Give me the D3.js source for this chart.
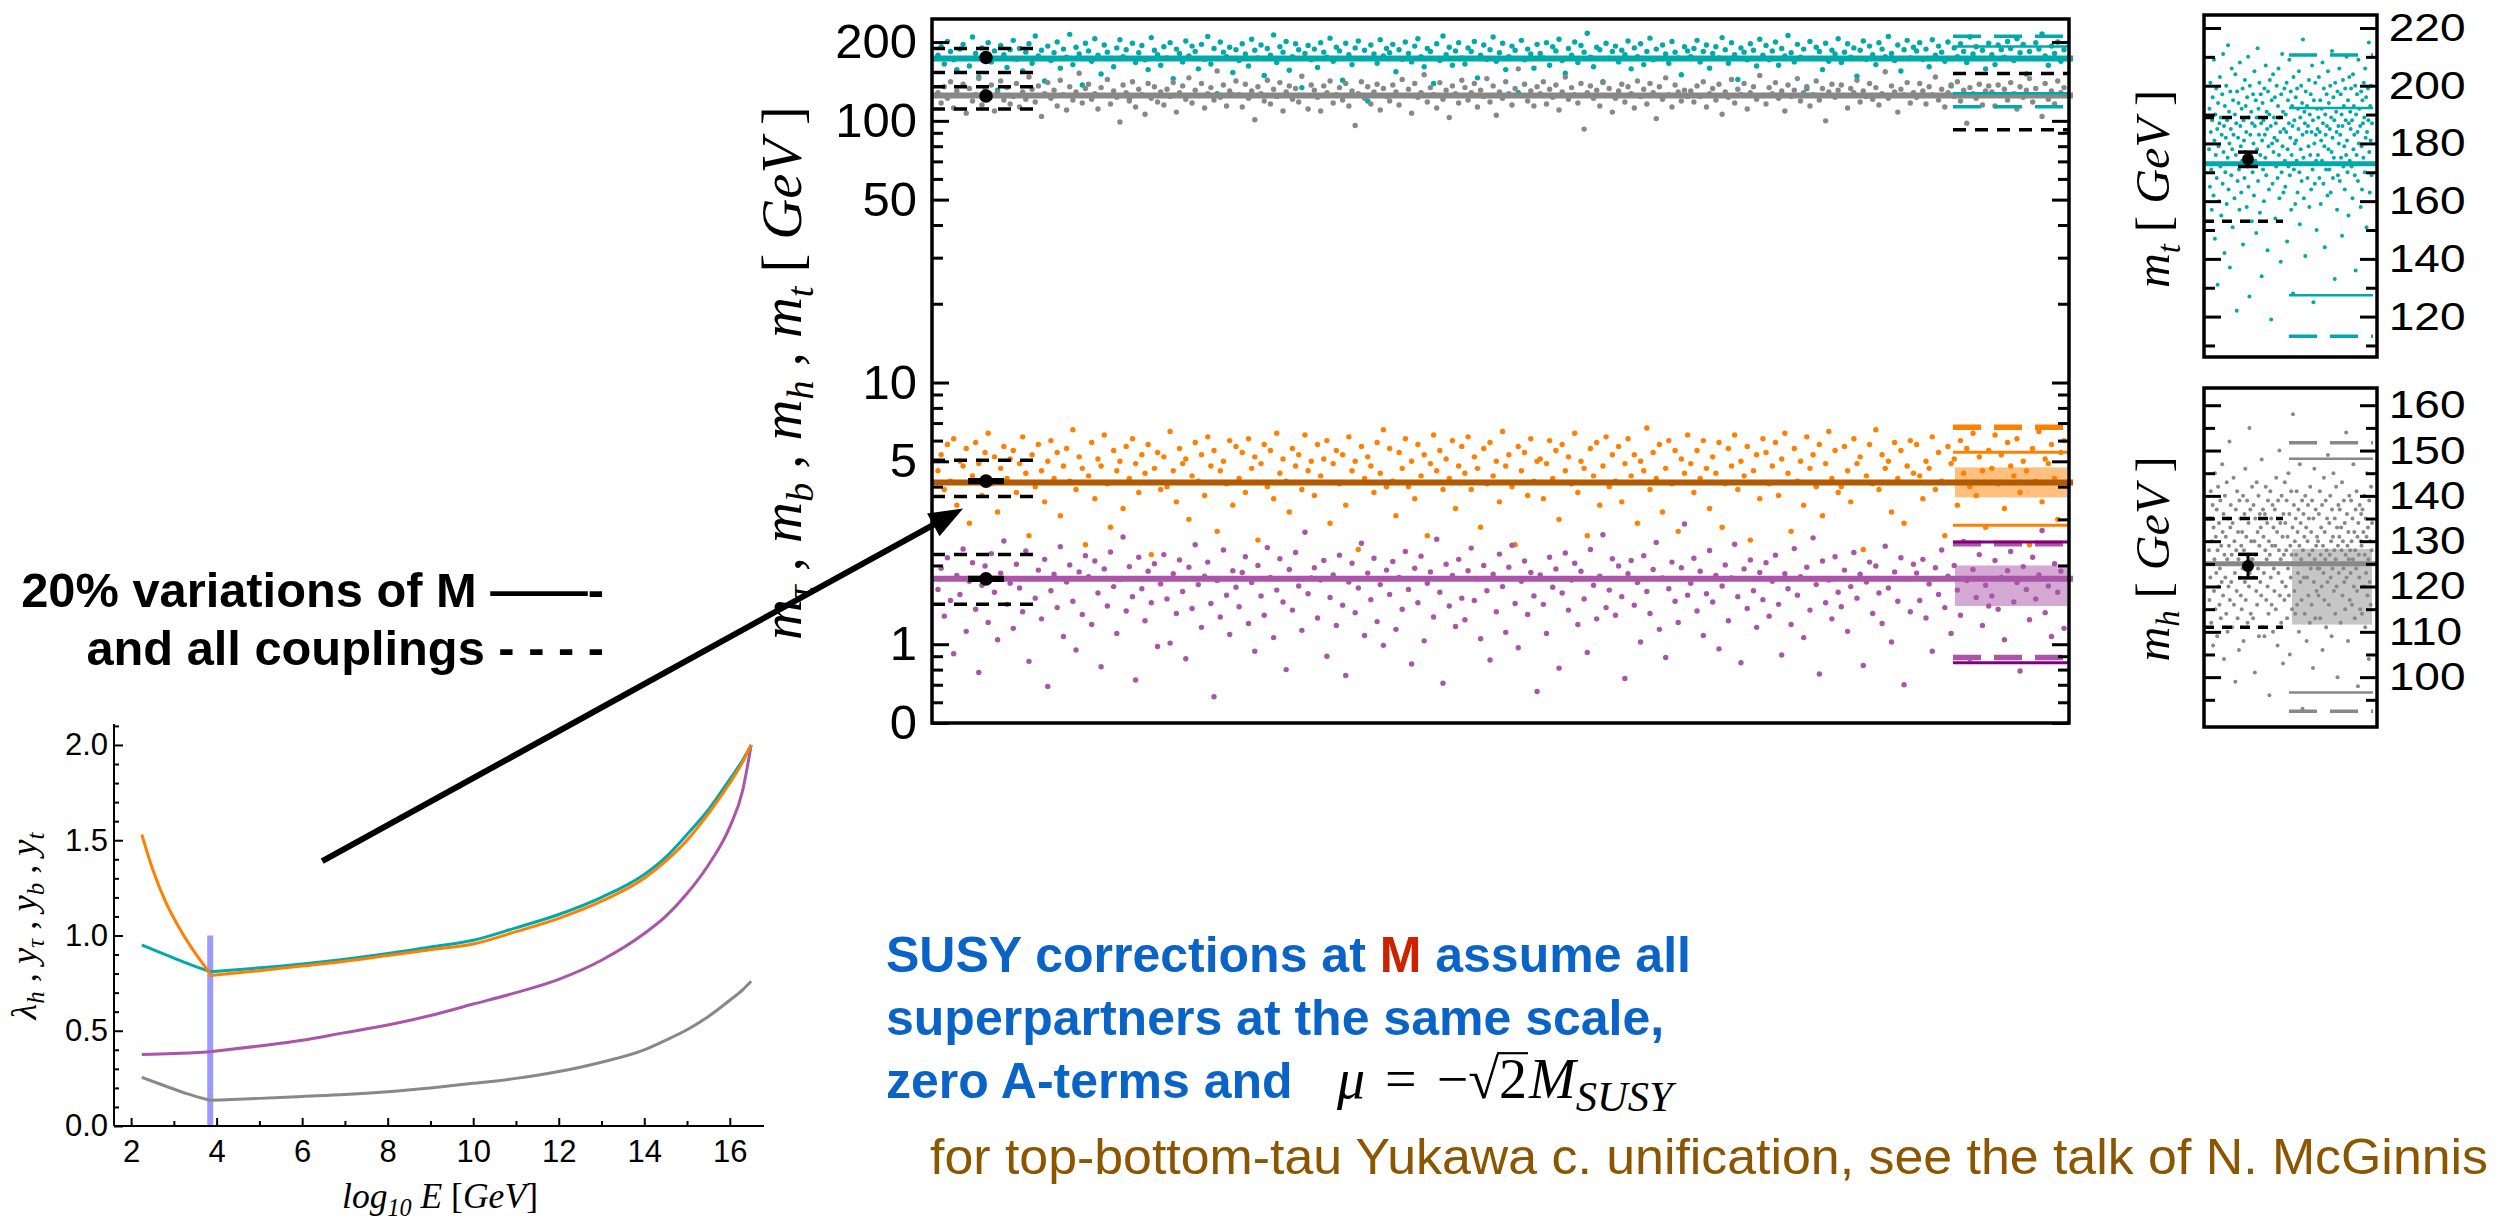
<!DOCTYPE html>
<html>
<head>
<meta charset="utf-8">
<script src="https://cdn.jsdelivr.net/npm/d3@7/dist/d3.min.js"></script>
<style>
  body { margin: 0; background: #fff; }
  svg { display: block; }
</style>
</head>
<body>
<svg id="fig" width="2501" height="1221"></svg>
<script>
// sampled masses (one value per scan point), GeV
const mtVals = [
  178,192,165,201,184,171,157,188,196,173,162,209,181,147,190,176,199,168,185,131,194,179,160,187,
  203,172,189,155,183,197,166,211,177,186,142,193,170,182,200,159,188,175,214,164,191,180,137,198,
  185,169,206,178,151,195,183,173,161,190,204,176,187,122,198,167,182,194,171,157,208,186,179,163,
  192,174,199,145,188,181,168,202,177,193,184,158,196,172,210,165,189,127,200,183,176,191,153,187,
  170,197,180,162,205,186,174,195,149,189,178,213,167,192,183,201,156,176,197,187,134,181,194,171,
  188,160,199,183,175,207,169,191,185,143,198,179,164,190,202,173,186,119,195,180,166,204,177,189,
  182,196,154,187,172,200,181,168,193,206,176,161,189,184,139,197,170,211,179,191,163,185,199,174,
  165,190,184,201,146,178,195,172,187,209,169,182,198,157,176,193,186,128,203,171,188,180,159,196,
  181,174,199,163,192,185,205,170,152,189,178,200,167,194,183,216,175,161,191,187,141,198,173,184,
  193,168,186,179,202,158,190,176,197,164,184,207,171,188,125,195,180,166,201,183,174,150,192,185,
  176,189,203,168,184,195,159,181,192,174,208,187,166,199,179,144,190,183,171,197,186,162,205,178,
  194,171,185,200,163,189,177,212,182,168,196,175,188,133,201,173,191,184,157,198,169,186,180,206,
  167,183,197,175,190,148,186,202,172,193,179,164,199,188,176,210,181,170,195,155,187,203,174,191,
  185,199,172,188,161,204,178,193,183,169,200,136,190,176,197,184,167,209,180,192,173,186,158,198,
  179,164,195,187,175,201,189,170,206,182,196,151,184,173,199,188,215,177,163,193,181,200,169,187
];
const mhVals = [
  128,117,135,122,141,112,130,125,138,107,133,119,126,145,115,131,123,137,109,128,142,120,134,116,
  124,139,113,129,121,147,132,118,136,104,127,140,122,131,114,143,126,110,135,120,129,152,117,133,
  138,121,127,111,134,125,144,116,130,123,99,137,128,119,141,113,132,126,106,139,122,135,118,129,
  115,132,124,140,108,128,136,121,146,117,131,125,139,112,127,134,120,155,123,137,114,130,126,142,
  126,113,138,122,130,101,135,127,119,143,116,132,124,140,109,129,136,121,133,118,148,125,111,137,
  131,123,109,136,128,142,117,126,134,120,139,114,130,96,127,141,122,135,116,129,138,110,133,124,
  119,137,129,115,144,125,132,107,139,123,128,150,118,134,126,112,140,121,131,103,136,127,117,143,
  134,120,128,139,113,131,124,145,118,136,105,129,122,141,127,115,133,158,125,138,119,130,114,135,
  127,141,116,132,123,137,110,129,147,121,134,126,117,139,93,128,136,122,131,114,140,125,133,108,
  122,130,138,118,135,127,112,142,124,132,116,139,128,102,135,121,146,126,113,137,129,119,131,124,
  130,118,136,124,141,113,127,133,120,138,106,129,123,144,117,132,126,139,111,128,135,121,149,125,
  116,134,127,140,122,130,109,137,124,131,145,119,128,135,114,126,142,120,133,100,129,138,123,131,
  137,125,112,133,128,143,118,130,124,139,121,134,115,127,154,122,136,129,108,132,126,140,117,128,
  123,139,130,116,135,126,147,120,132,113,128,137,124,141,119,131,98,134,127,122,138,115,130,136,
  129,114,137,125,132,120,140,127,111,135,123,131,145,118,133,126,104,139,121,130,116,142,128,134
];
const mbVals = [
  4.6,5.3,3.9,5.8,4.2,6.1,3.4,5.0,4.8,5.6,2.9,4.4,5.9,4.9,3.7,5.4,6.4,4.1,5.2,3.2,4.7,5.7,4.3,5.1,
  5.5,3.8,4.9,6.2,4.5,2.6,5.3,4.0,5.8,4.6,3.5,5.0,6.0,4.3,5.4,3.1,4.8,5.6,4.2,6.6,3.9,5.2,4.7,2.4,
  4.4,5.9,3.6,5.1,4.8,6.3,4.1,2.8,5.5,4.6,5.0,3.3,5.7,4.3,6.1,4.9,3.8,5.3,4.5,5.8,2.2,4.7,5.4,3.9,
  5.2,4.0,6.5,4.6,3.5,5.6,4.9,5.1,3.0,4.4,5.9,4.2,5.3,3.7,6.2,4.8,5.5,2.7,4.6,5.0,4.1,6.0,3.4,5.7,
  4.3,5.4,3.8,6.1,4.7,5.2,2.5,4.9,5.8,4.0,5.5,3.6,6.4,4.5,5.1,4.2,3.2,5.6,4.8,5.3,3.9,6.3,4.6,5.0,
  3.7,5.8,4.4,5.1,6.0,2.9,4.9,5.5,4.1,5.3,3.4,6.2,4.6,5.0,2.3,5.7,4.3,5.2,4.8,3.8,5.9,4.5,6.6,4.0,
  5.6,4.2,3.1,5.4,4.7,6.1,4.0,5.0,3.6,5.8,4.4,5.3,2.6,4.9,6.3,4.6,5.5,3.9,5.1,4.3,6.0,3.3,4.8,5.7,
  4.5,6.2,3.9,5.2,4.7,2.8,5.6,4.1,5.9,4.4,5.0,3.5,6.5,4.8,5.3,4.0,2.4,5.7,4.6,5.4,3.7,6.1,4.2,5.0,
  5.1,3.6,4.9,6.0,4.3,5.5,3.0,5.8,4.6,5.2,4.1,6.4,3.8,5.0,4.7,2.6,5.6,4.4,5.9,3.4,4.8,6.2,4.0,5.3,
  4.2,5.7,3.5,4.9,6.1,4.4,5.3,2.9,5.0,4.6,6.7,3.9,5.4,4.3,5.8,3.2,4.7,6.0,4.1,5.5,2.7,5.1,4.5,6.3,
  4.9,3.8,5.5,4.3,6.0,4.7,3.3,5.2,4.5,5.9,2.8,4.1,5.6,4.8,6.3,3.9,5.0,4.4,5.7,2.5,4.6,5.3,3.6,6.1,
  5.4,4.1,4.8,5.9,3.7,5.1,6.4,4.5,2.7,5.6,4.2,5.0,3.4,6.2,4.7,5.3,4.0,5.8,3.1,4.9,6.5,4.3,5.5,3.8,
  4.0,5.7,4.6,3.5,6.1,4.9,5.2,2.3,4.4,5.8,4.1,6.6,3.9,5.3,4.7,5.0,3.2,5.9,4.3,5.5,2.9,4.8,6.0,4.5,
  5.8,4.4,3.6,5.0,4.7,6.2,3.9,5.4,4.2,2.6,5.7,4.9,5.1,3.4,6.0,4.5,5.6,4.0,6.4,3.7,5.2,4.6,2.8,5.5,
  4.7,6.3,4.1,5.3,3.3,5.9,4.8,4.4,6.1,3.8,5.0,4.6,2.4,5.6,4.2,6.5,3.5,5.1,4.9,5.8,4.3,3.0,5.4,6.0
];
const mtauVals = [
  1.62,1.95,1.28,2.14,1.47,0.92,1.83,1.55,2.31,1.12,1.74,2.05,1.36,0.78,1.68,1.99,1.21,2.22,1.58,1.04,1.87,2.48,1.42,1.71,
  1.15,2.02,1.64,1.33,2.27,0.86,1.78,1.50,1.92,1.25,2.11,0.69,1.60,1.85,1.38,2.36,1.07,1.73,2.01,1.46,0.95,1.89,1.30,2.18,
  1.81,1.19,2.08,1.57,0.82,1.94,1.40,2.25,1.66,1.10,1.77,2.57,1.34,1.98,1.52,0.73,2.15,1.63,1.23,1.90,1.44,2.03,0.98,1.70,
  2.20,1.49,1.01,1.86,1.31,2.10,1.59,0.88,1.97,1.37,2.40,1.69,1.16,1.82,2.06,1.43,0.63,1.75,1.27,2.29,1.54,1.09,1.91,1.65,
  1.39,1.88,2.16,1.20,1.72,0.94,2.00,1.53,1.29,2.34,1.80,1.06,1.61,2.12,1.45,0.80,1.93,1.35,2.24,1.67,1.13,2.68,1.56,1.79,
  1.96,1.26,1.76,2.09,0.90,1.51,1.84,1.18,2.19,1.41,0.76,1.73,2.04,1.32,1.64,2.43,1.08,1.87,1.48,2.13,1.22,1.69,0.99,1.92,
  1.55,2.07,1.14,1.80,1.36,2.26,1.62,0.84,1.95,1.44,2.17,1.03,1.71,1.89,1.27,2.52,1.58,0.71,2.02,1.40,1.83,1.17,2.11,1.50,
  1.24,1.91,2.33,1.47,1.78,1.05,2.00,1.60,0.87,1.85,1.33,2.21,1.66,1.11,1.97,2.39,1.43,0.97,1.74,2.08,1.30,1.88,1.53,0.66,
  1.84,1.42,1.10,2.15,1.65,1.94,0.81,1.57,2.23,1.35,1.76,2.04,1.19,1.90,1.49,0.93,2.30,1.68,1.25,1.82,2.62,1.38,1.61,2.12,
  1.29,1.99,1.52,0.74,1.86,2.09,1.41,1.72,1.02,2.18,1.59,1.31,1.93,2.45,1.14,1.79,0.89,1.63,2.06,1.46,1.21,1.96,2.88,1.54,
  1.71,2.13,1.34,1.90,1.08,1.56,2.28,1.45,1.83,0.96,1.67,2.01,1.23,1.79,2.41,1.52,0.85,1.94,1.37,2.10,1.60,1.16,1.88,1.48,
  2.05,1.28,1.74,2.19,1.42,0.91,1.86,1.63,1.19,2.32,1.54,1.81,1.06,1.97,1.35,2.55,1.69,0.77,2.08,1.44,1.76,1.25,2.16,1.58,
  1.39,1.92,1.12,1.66,2.24,1.50,1.85,0.83,1.73,2.06,1.31,1.99,1.57,1.20,2.37,1.64,1.02,1.89,1.46,2.14,0.70,1.78,1.33,2.02,
  1.87,1.47,2.11,1.26,1.70,0.94,1.96,1.55,2.29,1.38,1.82,1.10,2.00,1.61,1.29,2.47,1.75,0.88,1.93,1.51,2.20,1.18,1.68,1.40,
  1.53,2.09,1.36,1.80,1.04,1.91,2.26,1.45,1.72,0.79,1.98,1.62,1.24,2.15,1.49,1.84,2.72,1.32,1.67,1.07,2.03,1.58,1.90,1.15
];

// order everywhere: t, h, b, tau
const fitMasses = [173, 125, 4.15, 1.78];
const expMasses = [174.5, 124.5, 4.2, 1.777];
const expErrors = [2.5, 2.6, 0.05, 0.02];
const couplingBands = [[189, 153], [135, 111], [5.05, 3.67], [2.2, 1.42]];

const mainTickVals = [0.5, 1, 5, 10, 50, 100, 200];
const mainTickLabels = ['0', '1', '5', '10', '50', '100', '200'];
const mainMinorVals = [0.6, 0.7, 0.8, 0.9, 2, 3, 4, 6, 7, 8, 9, 20, 30, 40, 60, 70, 80, 90];

// right-hand stubs: M varied by 20%
const tStubDashed = [210.6, 113.2], tStubSolid = [192.3, 127.4];
const hStubDashed = [151.7, 92.5], hStubSolid = [148.2, 96.6], hBand = [111.6, 128.3];
const bStubDashed = [6.75, 2.43], bStubSolid = [5.42, 2.85], bBand = [3.64, 4.74];
const tauStubDashed = [2.42, 0.89], tauStubSolid = [2.46, 0.85], tauBand = [1.40, 2.0];

const mtMiniTicks = [120, 140, 160, 180, 200, 220], mtMiniMinor = [110, 130, 150, 170, 190, 210];
const mhMiniTicks = [100, 110, 120, 130, 140, 150, 160], mhMiniMinor = [95, 105, 115, 125, 135, 145, 155];

// running couplings vs log10 E
const energyTicks = [2, 4, 6, 8, 10, 12, 14, 16], energyMinor = [3, 5, 7, 9, 11, 13, 15];
const couplingTicks = [0, 0.5, 1, 1.5, 2];
const couplingMinor = [0.1,0.2,0.3,0.4,0.6,0.7,0.8,0.9,1.1,1.2,1.3,1.4,1.6,1.7,1.8,1.9,2.1];
const logM = 3.85;
const ytLow = [[2.25,0.95],[2.8,0.9],[3.3,0.855],[3.85,0.81]];
const ytHigh = [[3.85,0.81],[5,0.83],[6,0.85],[7,0.875],[8,0.905],[9,0.94],[10,0.975],[11,1.04],[12,1.11],[13,1.2],[14,1.32],[14.5,1.41],[15,1.53],[15.5,1.66],[16,1.82],[16.3,1.92],[16.5,2.0]];
const ybLow = [[2.25,1.53],[2.5,1.35],[2.8,1.18],[3.1,1.05],[3.4,0.94],[3.65,0.86],[3.85,0.8]];
const ybHigh = [[3.85,0.79],[5,0.815],[6,0.84],[7,0.865],[8,0.895],[9,0.925],[10,0.955],[11,1.02],[12,1.09],[13,1.18],[14,1.3],[14.5,1.39],[15,1.5],[15.5,1.64],[16,1.8],[16.3,1.91],[16.5,2.0]];
const ytauLow = [[2.25,0.375],[3,0.38],[3.85,0.39]];
const ytauHigh = [[3.85,0.39],[5,0.42],[6,0.45],[7,0.49],[8,0.53],[9,0.58],[10,0.64],[11,0.7],[12,0.77],[13,0.87],[14,1.01],[14.5,1.1],[15,1.22],[15.5,1.37],[16,1.57],[16.3,1.76],[16.5,2.0]];
const lamLow = [[2.25,0.255],[2.8,0.21],[3.3,0.17],[3.85,0.135]];
const lamHigh = [[3.85,0.135],[5,0.145],[6,0.155],[7,0.165],[8,0.18],[9,0.2],[10,0.224],[11,0.25],[12,0.286],[13,0.335],[14,0.4],[14.5,0.45],[15,0.505],[15.5,0.575],[16,0.66],[16.3,0.715],[16.5,0.76]];

const svg = d3.select('#fig');
const teal = '#00aaaa', grey = '#888888', orange = '#ff8000', purple = '#aa55aa', darkOrange = '#b35900';
const dashLong = '28,13', dashShort = '13,9';
const sansFam = 'Liberation Sans, Arial, sans-serif';
const narrow = 'Liberation Sans Narrow, Arial Narrow, Liberation Sans, sans-serif';
const serif = 'Liberation Serif, Times New Roman, serif';

function hline(g, y, x0, x1, color, w, dash) {
  g.append('line').attr('x1', x0).attr('x2', x1).attr('y1', y).attr('y2', y)
    .attr('stroke', color).attr('stroke-width', w).attr('stroke-dasharray', dash || null);
}

function errPoint(g, cx, cy, ylo, yhi, cap, r) {
  if (cap > 0) {
    g.append('line').attr('x1', cx).attr('x2', cx).attr('y1', ylo).attr('y2', yhi)
      .attr('stroke', '#000').attr('stroke-width', 3);
    [ylo, yhi].forEach(y => hline(g, y, cx - cap / 2, cx + cap / 2, '#000', 3.5));
  }
  g.append('circle').attr('cx', cx).attr('cy', cy).attr('r', r).attr('fill', '#000');
}

function styleAxis(g, fs, fam, sw) {
  g.attr('font-size', null).attr('font-family', null);
  g.select('.domain').remove();
  g.selectAll('.tick line').attr('stroke', '#000').attr('stroke-width', sw);
  g.selectAll('.tick text').attr('font-size', fs).attr('font-family', fam).attr('fill', '#000');
}

// rich text: italic parts and subscripts, sizes relative to the parent
function rich(sel, pieces) {
  let down = false;
  pieces.forEach(p => {
    const t = sel.append('tspan').text(p[0]);
    if (p[1] === 'i' || p[1] === 's') t.attr('font-style', 'italic');
    if (p[1] === 's') {
      t.attr('font-size', '0.68em');
      if (!down) t.attr('dy', '0.32em');
      down = true;
    } else {
      if (down) t.attr('dy', '-0.218em');
      down = false;
    }
  });
}

// scale the font so the text takes the given width
function fitWidth(sel, target) {
  const w = sel.node().getComputedTextLength();
  const fs = +sel.attr('font-size') * target / w;
  sel.attr('font-size', fs);
  return fs;
}

// ---------------- main panel ----------------
const N = mtVals.length;
const xMain = d3.scaleLinear().domain([0, N - 1]).range([938, 2064]);
const yMain = d3.scaleLog().domain([0.5, 245]).range([723, 19]);
const main = svg.append('g');
const stubX0 = 1953, stubX1 = 2069;

[[bBand, 'rgba(255,128,0,0.5)'], [tauBand, 'rgba(170,85,170,0.5)']].forEach(([b, c]) => {
  main.append('rect').attr('x', 1955).attr('width', 112)
    .attr('y', yMain(b[1])).attr('height', yMain(b[0]) - yMain(b[1])).attr('fill', c);
});

const mainSeries = [
  { vals: mtVals, color: teal }, { vals: mhVals, color: grey },
  { vals: mbVals, color: orange }, { vals: mtauVals, color: purple }
];
mainSeries.forEach(s => {
  main.append('g').selectAll('circle').data(s.vals).join('circle')
    .attr('cx', (d, i) => xMain(i)).attr('cy', d => yMain(d)).attr('r', 2.7).attr('fill', s.color);
});

const fitColors = [teal, grey, darkOrange, purple];
fitMasses.forEach((m, i) => hline(main, yMain(m), 932, 2073, fitColors[i], 6));

tStubDashed.forEach(v => hline(main, yMain(v), stubX0, stubX1, teal, 3.5, dashLong));
tStubSolid.forEach(v => hline(main, yMain(v), stubX0, stubX1, teal, 2.5));
hStubDashed.forEach(v => hline(main, yMain(v), stubX0, stubX1, '#000', 3.5, dashShort));
bStubDashed.forEach(v => hline(main, yMain(v), stubX0, stubX1 + 4, orange, 5.5, dashLong));
bStubSolid.forEach(v => hline(main, yMain(v), stubX0, stubX1, orange, 3));
tauStubDashed.forEach(v => hline(main, yMain(v), stubX0, stubX1 + 4, purple, 5.5, dashLong));
tauStubSolid.forEach(v => hline(main, yMain(v), stubX0, stubX1, '#800080', 3));

couplingBands.forEach(b => b.forEach(v => hline(main, yMain(v), 932, 1040, '#000', 3.5, dashShort)));

expMasses.forEach((m, i) => {
  errPoint(main, 986, yMain(m), yMain(m - expErrors[i]), yMain(m + expErrors[i]), i < 2 ? 0 : 36, 6.8);
});

main.append('rect').attr('x', 932).attr('y', 19).attr('width', 1137).attr('height', 704)
  .attr('fill', 'none').attr('stroke', '#000').attr('stroke-width', 3.5);
main.append('g').attr('transform', 'translate(932,0)')
  .call(d3.axisLeft(yMain).tickValues(mainTickVals).tickFormat((d, i) => mainTickLabels[i]).tickSize(-17).tickPadding(15))
  .call(g => styleAxis(g, 49, sansFam, 3));
main.append('g').attr('transform', 'translate(932,0)')
  .call(d3.axisLeft(yMain).tickValues(mainMinorVals).tickFormat('').tickSize(-11))
  .call(g => styleAxis(g, 49, sansFam, 3));
main.append('g').attr('transform', 'translate(2069,0)')
  .call(d3.axisRight(yMain).tickValues(mainTickVals).tickFormat('').tickSize(-17))
  .call(g => styleAxis(g, 49, sansFam, 3));
main.append('g').attr('transform', 'translate(2069,0)')
  .call(d3.axisRight(yMain).tickValues(mainMinorVals).tickFormat('').tickSize(-11))
  .call(g => styleAxis(g, 49, sansFam, 3));

const mainLabel = svg.append('text').attr('transform', 'translate(801,373) rotate(-90)')
  .attr('text-anchor', 'middle').attr('font-family', serif).attr('font-size', 56);
rich(mainLabel, [['m','i'],['τ','s'],[' , ','r'],['m','i'],['b','s'],[' , ','r'],['m','i'],['h','s'],
  [' , ','r'],['m','i'],['t','s'],[' [ ','r'],['GeV','i'],[' ]','r']]);
fitWidth(mainLabel, 534);

// ---------------- side panels ----------------
const xMini = d3.scaleLinear().domain([0, N - 1]).range([2209, 2372]);

function miniPanel(c) {
  const g = svg.append('g');
  const y = d3.scaleLinear().domain(c.domain).range(c.range);
  if (c.stubBand) {
    g.append('rect').attr('x', 2292).attr('width', 80)
      .attr('y', y(c.stubBand[1])).attr('height', y(c.stubBand[0]) - y(c.stubBand[1]))
      .attr('fill', 'rgba(128,128,128,0.45)');
  }
  g.append('g').selectAll('circle').data(c.vals).join('circle')
    .attr('cx', (d, i) => xMini(i)).attr('cy', d => y(d)).attr('r', 2).attr('fill', c.color);
  hline(g, y(c.fit), 2204, 2377, c.color, 5);
  c.stubDashed.forEach(v => hline(g, y(v), 2289, 2373, c.color, 3.5, dashLong));
  c.stubSolid.forEach(v => hline(g, y(v), 2289, 2373, c.color, 2.5));
  c.band.forEach(v => hline(g, y(v), 2204, 2283, '#000', 3.5, '10,8'));
  errPoint(g, 2248, y(c.exp), y(c.exp - c.err), y(c.exp + c.err), 20, 6);
  g.append('rect').attr('x', 2204).attr('y', c.range[1]).attr('width', 173)
    .attr('height', c.range[0] - c.range[1])
    .attr('fill', 'none').attr('stroke', '#000').attr('stroke-width', 3.5);
  g.append('g').attr('transform', 'translate(2377,0)')
    .call(d3.axisRight(y).tickValues(c.ticks).tickFormat(d3.format('d')).tickSize(-17).tickPadding(10))
    .call(s => styleAxis(s, 39, sansFam, 3))
    .call(s => s.selectAll('.tick text').attr('transform', 'scale(1.18,1)'));
  g.append('g').attr('transform', 'translate(2377,0)')
    .call(d3.axisRight(y).tickValues(c.minor).tickFormat('').tickSize(-11))
    .call(s => styleAxis(s, 39, sansFam, 3));
  g.append('g').attr('transform', 'translate(2204,0)')
    .call(d3.axisLeft(y).tickValues(c.ticks).tickFormat('').tickSize(-17))
    .call(s => styleAxis(s, 39, sansFam, 3));
  g.append('g').attr('transform', 'translate(2204,0)')
    .call(d3.axisLeft(y).tickValues(c.minor).tickFormat('').tickSize(-11))
    .call(s => styleAxis(s, 39, sansFam, 3));
  const lab = svg.append('text').attr('transform', `translate(2169,${c.labelMid}) rotate(-90)`)
    .attr('text-anchor', 'middle').attr('font-family', serif).attr('font-size', 54);
  rich(lab, [['m','i'],[c.sub,'s'],[' [ ','r'],['GeV','i'],[' ]','r']]);
  fitWidth(lab, c.labelLen);
}

miniPanel({ vals: mtVals, color: teal, domain: [106, 224.5], range: [357, 15],
  ticks: mtMiniTicks, minor: mtMiniMinor, fit: fitMasses[0], exp: expMasses[0], err: expErrors[0],
  band: couplingBands[0], stubDashed: tStubDashed, stubSolid: tStubSolid, sub: 't',
  labelMid: 189, labelLen: 198 });
miniPanel({ vals: mhVals, color: grey, domain: [89, 163.8], range: [727, 388],
  ticks: mhMiniTicks, minor: mhMiniMinor, fit: fitMasses[1], exp: expMasses[1], err: expErrors[1],
  band: couplingBands[1], stubDashed: hStubDashed, stubSolid: hStubSolid, stubBand: hBand, sub: 'h',
  labelMid: 559, labelLen: 205 });

// ---------------- running couplings ----------------
const xS = d3.scaleLinear().domain([1.6, 16.8]).range([114, 764]);
const yS = d3.scaleLinear().domain([0, 2.11]).range([1126, 724]);
const small = svg.append('g');

small.append('line').attr('x1', xS(logM)).attr('x2', xS(logM)).attr('y1', yS(0)).attr('y2', yS(1))
  .attr('stroke', 'rgba(100,100,255,0.65)').attr('stroke-width', 6);

const curveGen = d3.line().x(d => xS(d[0])).y(d => yS(d[1])).curve(d3.curveMonotoneX);
[[lamLow, grey], [lamHigh, grey], [ytauLow, purple], [ytauHigh, purple],
 [ytLow, teal], [ytHigh, teal], [ybLow, orange], [ybHigh, orange]].forEach(([pts, col]) => {
  small.append('path').attr('d', curveGen(pts)).attr('fill', 'none')
    .attr('stroke', col).attr('stroke-width', 3);
});

small.append('line').attr('x1', xS(1.6)).attr('x2', xS(16.8)).attr('y1', yS(0)).attr('y2', yS(0))
  .attr('stroke', '#000').attr('stroke-width', 2);
small.append('line').attr('x1', xS(1.6)).attr('x2', xS(1.6)).attr('y1', yS(0)).attr('y2', yS(2.11))
  .attr('stroke', '#000').attr('stroke-width', 2);
small.append('g').attr('transform', `translate(0,${yS(0)})`)
  .call(d3.axisBottom(xS).tickValues(energyTicks).tickFormat(d3.format('d')).tickSize(-8).tickPadding(14))
  .call(g => styleAxis(g, 31, narrow, 2));
small.append('g').attr('transform', `translate(0,${yS(0)})`)
  .call(d3.axisBottom(xS).tickValues(energyMinor).tickFormat('').tickSize(-5))
  .call(g => styleAxis(g, 31, narrow, 2));
small.append('g').attr('transform', `translate(${xS(1.6)},0)`)
  .call(d3.axisLeft(yS).tickValues(couplingTicks).tickFormat(d3.format('.1f')).tickSize(-9).tickPadding(6))
  .call(g => styleAxis(g, 31, narrow, 2));
small.append('g').attr('transform', `translate(${xS(1.6)},0)`)
  .call(d3.axisLeft(yS).tickValues(couplingMinor).tickFormat('').tickSize(-5))
  .call(g => styleAxis(g, 31, narrow, 2));

const sy = svg.append('text').attr('transform', 'translate(36,926) rotate(-90)')
  .attr('text-anchor', 'middle').attr('font-family', serif).attr('font-size', 30);
rich(sy, [['λ','i'],['h','s'],[' , ','r'],['y','i'],['τ','s'],[' , ','r'],['y','i'],['b','s'],[' , ','r'],['y','i'],['t','s']]);
fitWidth(sy, 187);
const sx = svg.append('text').attr('x', 440).attr('y', 1208)
  .attr('text-anchor', 'middle').attr('font-family', serif).attr('font-size', 34);
rich(sx, [['log','i'],['10','s'],[' E ','i'],['[','r'],['GeV','i'],[']','r']]);
fitWidth(sx, 196);

// arrow from the coupling plot to the main panel
const a0 = [xS(6.47), yS(1.39)], a1 = [xMain(8), yMain(3.3)];
const dx = a1[0] - a0[0], dy = a1[1] - a0[1], len = Math.hypot(dx, dy);
const ux = dx / len, uy = dy / len, L = 34, W = 13;
svg.append('line').attr('x1', a0[0]).attr('y1', a0[1])
  .attr('x2', a1[0] - ux * L * 0.8).attr('y2', a1[1] - uy * L * 0.8)
  .attr('stroke', '#000').attr('stroke-width', 6);
svg.append('polygon').attr('fill', '#000').attr('points', [
  a1, [a1[0] - ux * L - uy * W, a1[1] - uy * L + ux * W], [a1[0] - ux * L + uy * W, a1[1] - uy * L - ux * W]
].map(p => p.join(',')).join(' '));

// ---------------- annotations ----------------
const v1 = svg.append('text').attr('x', 604).attr('y', 607).attr('text-anchor', 'end')
  .attr('font-family', sansFam).attr('font-weight', 'bold').attr('font-size', 48)
  .text('20% variations of M ——-');
const vfs = fitWidth(v1, 583);
svg.append('text').attr('x', 604).attr('y', 665).attr('text-anchor', 'end')
  .attr('font-family', sansFam).attr('font-weight', 'bold').attr('font-size', vfs)
  .text('and all couplings - - - -');

const blue = '#0a64c8';
const t1 = svg.append('text').attr('x', 886).attr('y', 972)
  .attr('font-family', narrow).attr('font-weight', 'bold').attr('font-size', 56).attr('fill', blue);
t1.append('tspan').text('SUSY corrections at ');
t1.append('tspan').attr('fill', '#cc2200').text('M');
t1.append('tspan').text(' assume all');
const bfs = fitWidth(t1, 805);
svg.append('text').attr('x', 886).attr('y', 1035)
  .attr('font-family', narrow).attr('font-weight', 'bold').attr('font-size', bfs).attr('fill', blue)
  .text('superpartners at the same scale,');
svg.append('text').attr('x', 886).attr('y', 1098)
  .attr('font-family', narrow).attr('font-weight', 'bold').attr('font-size', bfs).attr('fill', blue)
  .text('zero A-terms and');

const ffs = 56;
const formula = svg.append('text').attr('x', 1337).attr('y', 1098)
  .attr('font-family', serif).attr('font-size', ffs).attr('fill', '#000');
formula.append('tspan').attr('font-style', 'italic').text('μ');
formula.append('tspan').attr('dx', 20).text('=');
formula.append('tspan').attr('dx', 20).text('−√2');
formula.append('tspan').attr('font-style', 'italic').attr('dx', 2).text('M');
formula.append('tspan').attr('font-style', 'italic').attr('font-size', '0.76em').attr('dy', '0.3em').text('SUSY');
const fn = formula.node();
const eRoot = fn.getExtentOfChar(3), eTwo = fn.getExtentOfChar(4);
svg.append('line').attr('x1', eRoot.x + eRoot.width - 2).attr('x2', eTwo.x + eTwo.width + 1)
  .attr('y1', 1098 - ffs * 0.8).attr('y2', 1098 - ffs * 0.8)
  .attr('stroke', '#000').attr('stroke-width', 2.2);

svg.append('text').attr('x', 930).attr('y', 1174)
  .attr('font-family', narrow).attr('font-size', 50).attr('fill', '#8c5500')
  .attr('textLength', 1558).attr('lengthAdjust', 'spacingAndGlyphs')
  .text('for top-bottom-tau Yukawa c. unification, see the talk of N. McGinnis');
</script>
</body>
</html>
